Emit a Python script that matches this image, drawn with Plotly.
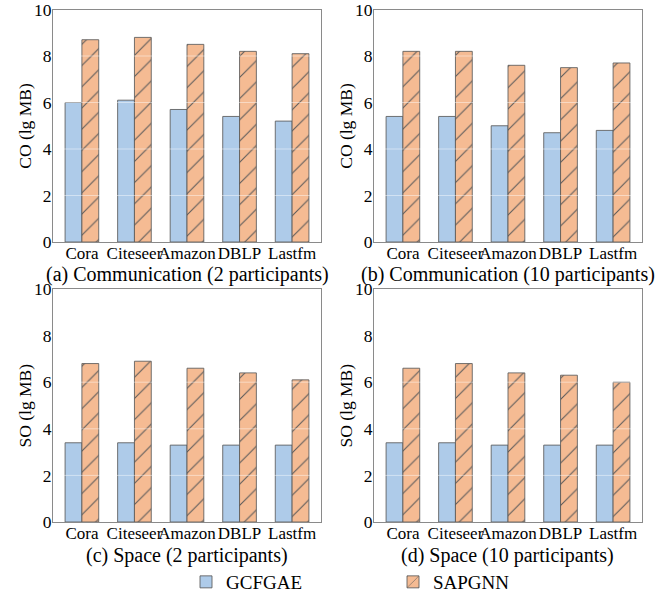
import plotly.graph_objects as go

categories = ["Cora", "Citeseer", "Amazon", "DBLP", "Lastfm"]
series_names = ["GCFGAE", "SAPGNN"]

# (a) Communication, 2 participants
comm2_gcfgae = [6.0, 6.1, 5.7, 5.4, 5.2]
comm2_sapgnn = [8.7, 8.8, 8.5, 8.2, 8.1]
# (b) Communication, 10 participants
comm10_gcfgae = [5.4, 5.4, 5.0, 4.7, 4.8]
comm10_sapgnn = [8.2, 8.2, 7.6, 7.5, 7.7]
# (c) Space, 2 participants
space2_gcfgae = [3.4, 3.4, 3.3, 3.3, 3.3]
space2_sapgnn = [6.8, 6.9, 6.6, 6.4, 6.1]
# (d) Space, 10 participants
space10_gcfgae = [3.4, 3.4, 3.3, 3.3, 3.3]
space10_sapgnn = [6.6, 6.8, 6.4, 6.3, 6.0]

panel_titles = ["(a) Communication (2 participants)",
                "(b) Communication (10 participants)",
                "(c) Space (2 participants)",
                "(d) Space (10 participants)"]
y_titles = ["CO (lg MB)", "CO (lg MB)", "SO (lg MB)", "SO (lg MB)"]
y_ticks = [0, 2, 4, 6, 8, 10]

panels = [(comm2_gcfgae, comm2_sapgnn), (comm10_gcfgae, comm10_sapgnn),
          (space2_gcfgae, space2_sapgnn), (space10_gcfgae, space10_sapgnn)]

W, H = 667, 596
FONT = "Liberation Serif, Times New Roman, serif"
BLUE = "#aecbe9"
ORANGE = "#f5bb93"
EDGE = "rgba(90,90,90,0.85)"

# domains (pixels -> paper)
x_doms = [(53 / W, 321 / W), (374 / W, 642 / W)]
y_doms = [(1 - 242 / H, 1 - 9.5 / H), (1 - 522 / H, 1 - 289 / H)]
ytitle_x = [25 / W, 346 / W]
title_gap = [32, 33]

fig = go.Figure()
layout = dict(
    width=W, height=H,
    margin=dict(l=0, r=0, t=0, b=0, autoexpand=False),
    paper_bgcolor="white", plot_bgcolor="white",
    font=dict(family=FONT, size=17, color="black"),
    barmode="group", bargap=0.36, bargroupgap=0,
    showlegend=True,
    legend=dict(orientation="h", x=186 / W, y=1 - 582 / H, xanchor="left", yanchor="middle",
                font=dict(size=19, family=FONT), entrywidth=162, entrywidthmode="pixels",
                bgcolor="rgba(0,0,0,0)"),
)
annotations = []
shapes = []

for i, (g, s) in enumerate(panels):
    row, col = divmod(i, 2)
    n = i + 1
    xa = "x" if n == 1 else f"x{n}"
    ya = "y" if n == 1 else f"y{n}"
    fig.add_trace(go.Bar(
        x=categories, y=g, name=series_names[0], xaxis=xa, yaxis=ya,
        marker=dict(color=BLUE, line=dict(color=EDGE, width=1)),
        showlegend=(i == 0), legendgroup="g", offsetgroup="g",
    ))
    fig.add_trace(go.Bar(
        x=categories, y=s, name=series_names[1], xaxis=xa, yaxis=ya,
        marker=dict(color=ORANGE, line=dict(color=EDGE, width=1),
                    pattern=dict(shape="/", size=15, solidity=0.07,
                                 fgcolor="#5a5a5a", bgcolor=ORANGE, fillmode="replace")),
        showlegend=(i == 0), legendgroup="s", offsetgroup="s",
    ))
    xkey = "xaxis" if n == 1 else f"xaxis{n}"
    ykey = "yaxis" if n == 1 else f"yaxis{n}"
    layout[xkey] = dict(
        domain=list(x_doms[col]), anchor=ya, type="category",
        range=[-0.55, len(categories) - 0.45],
        showline=True, linecolor="#8a8a8a", linewidth=1, mirror=True,
        showgrid=False, ticks="", tickangle=0, tickfont=dict(size=17, family=FONT),
        ticklabelstandoff=-4, ticklabeloverflow="allow", zeroline=False, automargin=False,
    )
    layout[ykey] = dict(
        domain=list(y_doms[row]), anchor=xa, range=[0, 10],
        tickvals=y_ticks, showline=True, linecolor="#8a8a8a", linewidth=1, mirror=True,
        showgrid=False, ticks="", tickfont=dict(size=17.5, family=FONT),
        ticklabelstandoff=-3, ticklabeloverflow="allow", zeroline=False, automargin=False,
    )
    # faint white grid lines drawn over bars
    for t in y_ticks[1:-1]:
        shapes.append(dict(type="line", xref=f"{xa} domain", yref=ya, x0=0, x1=1, y0=t, y1=t,
                           line=dict(color="rgba(255,255,255,0.45)", width=1), layer="above"))
    xc = (x_doms[col][0] + x_doms[col][1]) / 2
    annotations.append(dict(
        text=panel_titles[i], x=xc, y=y_doms[row][0] - title_gap[row] / H, xref="paper", yref="paper",
        xanchor="center", yanchor="middle", showarrow=False,
        font=dict(size=20, family=FONT, color="black"),
    ))
    annotations.append(dict(
        text=y_titles[i], x=ytitle_x[col], y=(y_doms[row][0] + y_doms[row][1]) / 2,
        xref="paper", yref="paper", xanchor="center", yanchor="middle",
        textangle=-90, showarrow=False,
        font=dict(size=17.5, family=FONT, color="black"),
    ))

layout["annotations"] = annotations
layout["shapes"] = shapes
fig.update_layout(**layout)
fig.write_html("out.html")
